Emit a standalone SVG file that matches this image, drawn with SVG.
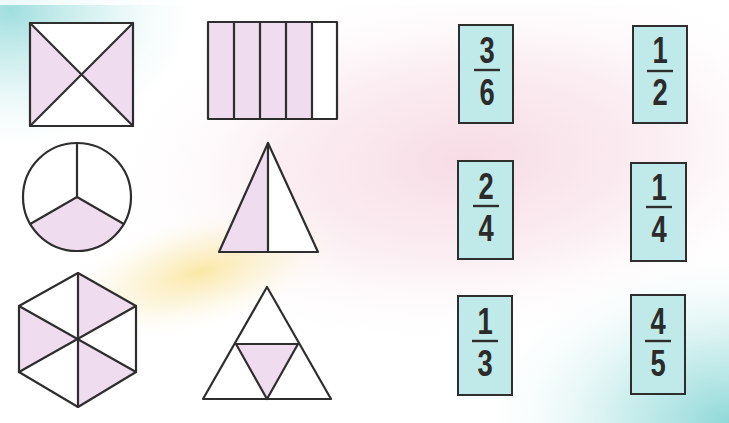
<svg xmlns="http://www.w3.org/2000/svg" width="729" height="423" viewBox="0 0 729 423">
<defs>
<radialGradient id="gTL" cx="0" cy="0" r="1" gradientUnits="userSpaceOnUse" gradientTransform="translate(10,10) scale(200,150)">
<stop offset="0" stop-color="#9fdede"/><stop offset="0.45" stop-color="#cdeeee" stop-opacity="0.7"/><stop offset="1" stop-color="#ffffff" stop-opacity="0"/>
</radialGradient>
<radialGradient id="gBR" cx="0" cy="0" r="1" gradientUnits="userSpaceOnUse" gradientTransform="translate(729,423) scale(260,180)">
<stop offset="0" stop-color="#8fd8d8"/><stop offset="0.4" stop-color="#bfe9e9" stop-opacity="0.8"/><stop offset="1" stop-color="#ffffff" stop-opacity="0"/>
</radialGradient>
<radialGradient id="gPink" cx="0" cy="0" r="1" gradientUnits="userSpaceOnUse" gradientTransform="translate(470,160) rotate(-5) scale(380,190)">
<stop offset="0" stop-color="#f7dbe5"/><stop offset="0.5" stop-color="#f9e6ec" stop-opacity="0.7"/><stop offset="1" stop-color="#ffffff" stop-opacity="0"/>
</radialGradient>
<radialGradient id="gYel" cx="0" cy="0" r="1" gradientUnits="userSpaceOnUse" gradientTransform="translate(200,272) rotate(-15) scale(150,60)">
<stop offset="0" stop-color="#fbe8a4"/><stop offset="0.5" stop-color="#fbefc8" stop-opacity="0.55"/><stop offset="1" stop-color="#ffffff" stop-opacity="0"/>
</radialGradient>
<style>
.ln{stroke:#2e2e2e;stroke-width:2.2;stroke-linejoin:round;stroke-linecap:round;fill:none}
.pk{fill:#f0dcef;stroke:none}
.wh{fill:#ffffff;stroke:none}
.card{fill:#c0eaea;stroke:#2e2e2e;stroke-width:2}
.bar{stroke:#2e2e2e;stroke-width:2.4}
.num{font-family:"Liberation Sans",Arial,sans-serif;font-weight:bold;font-size:37px;fill:#2b2b2b;text-anchor:middle}
</style>
</defs>
<rect width="729" height="423" fill="#ffffff"/>
<rect width="729" height="423" fill="url(#gPink)"/>
<rect width="729" height="423" fill="url(#gYel)"/>
<rect width="729" height="423" fill="url(#gTL)"/>
<rect width="729" height="423" fill="url(#gBR)"/>
<rect width="729" height="5" fill="#ffffff" opacity="0.8"/>

<g id="square">
<rect class="wh" x="30" y="23" width="103" height="103"/>
<polygon class="pk" points="30,23 81.5,74.5 30,126"/>
<polygon class="pk" points="133,23 81.5,74.5 133,126"/>
<rect class="ln" x="30" y="23" width="103" height="103"/>
<line class="ln" x1="30" y1="23" x2="133" y2="126"/>
<line class="ln" x1="133" y1="23" x2="30" y2="126"/>
</g>

<g id="rect5">
<rect class="pk" x="208" y="22" width="104" height="97"/>
<rect class="wh" x="312" y="22" width="25" height="97"/>
<rect class="ln" x="208" y="22" width="129" height="97"/>
<line class="ln" x1="234" y1="22" x2="234" y2="119"/>
<line class="ln" x1="260" y1="22" x2="260" y2="119"/>
<line class="ln" x1="286" y1="22" x2="286" y2="119"/>
<line class="ln" x1="312" y1="22" x2="312" y2="119"/>
</g>

<g id="circle">
<circle class="wh" cx="77" cy="197" r="54"/>
<path class="pk" d="M77,197 L30.2,224 A54,54 0 0 0 123.8,224 Z"/>
<circle class="ln" cx="77" cy="197" r="54"/>
<line class="ln" x1="77" y1="197" x2="77" y2="143"/>
<line class="ln" x1="77" y1="197" x2="30.2" y2="224"/>
<line class="ln" x1="77" y1="197" x2="123.8" y2="224"/>
</g>

<g id="triangle2">
<polygon class="wh" points="268,143 318,252 268,252"/>
<polygon class="pk" points="268,143 219,252 268,252"/>
<polygon class="ln" points="268,143 318,252 219,252"/>
<line class="ln" x1="268" y1="143" x2="268" y2="252"/>
</g>

<g id="hexagon">
<polygon class="wh" points="78,273 136,306 136,372 78,407 19,372 19,306"/>
<polygon class="pk" points="78,340 78,273 136,306"/>
<polygon class="pk" points="78,340 19,306 19,372"/>
<polygon class="pk" points="78,340 136,372 78,407"/>
<polygon class="ln" points="78,273 136,306 136,372 78,407 19,372 19,306"/>
<line class="ln" x1="78" y1="273" x2="78" y2="407"/>
<line class="ln" x1="19" y1="306" x2="136" y2="372"/>
<line class="ln" x1="136" y1="306" x2="19" y2="372"/>
</g>

<g id="triangle4">
<polygon class="wh" points="267,287 331,399 203,399"/>
<polygon class="pk" points="236,344 298,344 267,399"/>
<polygon class="ln" points="267,287 331,399 203,399"/>
<polygon class="ln" points="236,344 298,344 267,399"/>
</g>

<g id="card-3-6">
<rect class="card" x="459" y="25" width="54" height="98"/>
<text class="num" transform="translate(487,63) scale(0.74,1)">3</text>
<line class="bar" x1="474" y1="70" x2="500" y2="70"/>
<text class="num" transform="translate(487,105) scale(0.74,1)">6</text>
</g>
<g id="card-1-2">
<rect class="card" x="633" y="26" width="54" height="97"/>
<text class="num" transform="translate(660,63) scale(0.74,1)">1</text>
<line class="bar" x1="647" y1="71" x2="673" y2="71"/>
<text class="num" transform="translate(660,105) scale(0.74,1)">2</text>
</g>
<g id="card-2-4">
<rect class="card" x="458" y="161" width="55" height="98"/>
<text class="num" transform="translate(486,199) scale(0.74,1)">2</text>
<line class="bar" x1="473" y1="206" x2="499" y2="206"/>
<text class="num" transform="translate(486,241) scale(0.74,1)">4</text>
</g>
<g id="card-1-4">
<rect class="card" x="631" y="163" width="55" height="98"/>
<text class="num" transform="translate(659,200) scale(0.74,1)">1</text>
<line class="bar" x1="646" y1="207" x2="672" y2="207"/>
<text class="num" transform="translate(659,242) scale(0.74,1)">4</text>
</g>
<g id="card-1-3">
<rect class="card" x="458" y="296" width="54" height="99"/>
<text class="num" transform="translate(485,334) scale(0.74,1)">1</text>
<line class="bar" x1="472" y1="341" x2="498" y2="341"/>
<text class="num" transform="translate(485,376) scale(0.74,1)">3</text>
</g>
<g id="card-4-5">
<rect class="card" x="631" y="295" width="54" height="99"/>
<text class="num" transform="translate(658,334) scale(0.74,1)">4</text>
<line class="bar" x1="645" y1="341" x2="671" y2="341"/>
<text class="num" transform="translate(658,376) scale(0.74,1)">5</text>
</g>
<g id="connectors"/>
</svg>
